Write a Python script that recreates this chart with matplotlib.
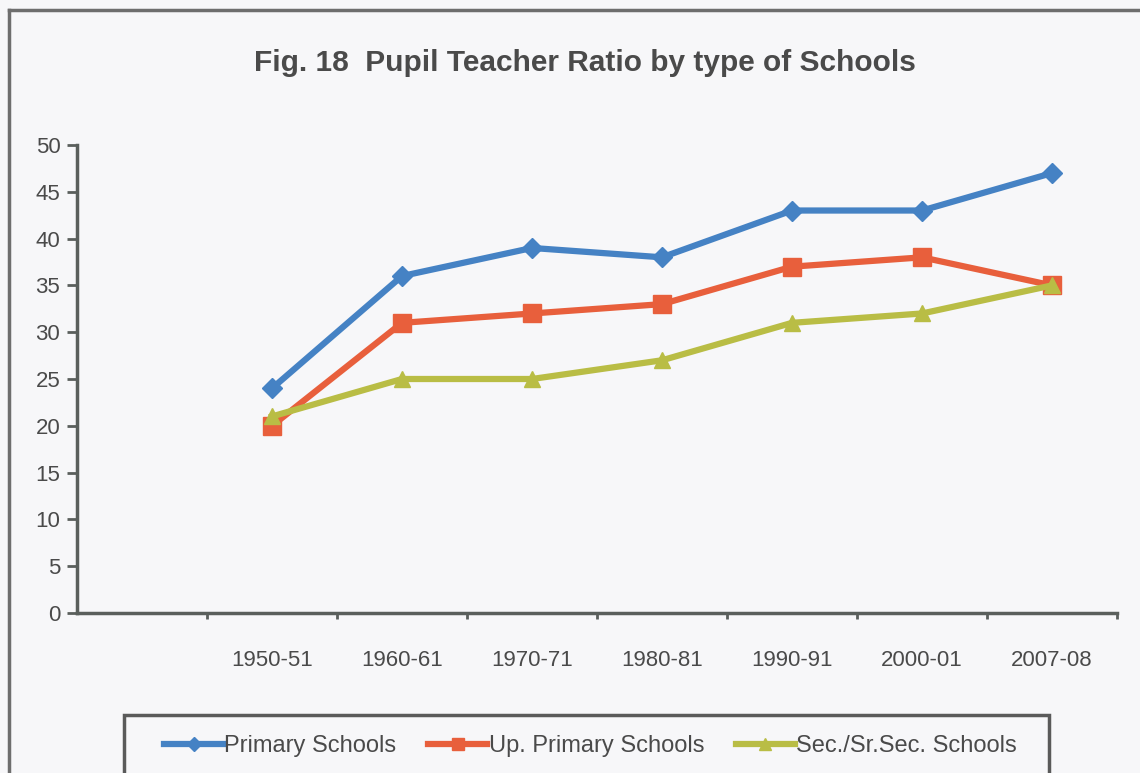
import numpy as np
import matplotlib.pyplot as plt
from matplotlib.lines import Line2D
from matplotlib.patches import Rectangle

years = ["1950-51", "1960-61", "1970-71", "1980-81", "1990-91", "2000-01", "2007-08"]
primary = [24, 36, 39, 38, 43, 43, 47]
up_primary = [20, 31, 32, 33, 37, 38, 35]
secondary = [21, 25, 25, 27, 31, 32, 35]

plt.rcParams['font.family'] = ['Liberation Sans', 'DejaVu Sans']

bg = '#f7f7f9'
axis_col = '#5a5f5c'
text_col = '#4a4a4a'
blue = '#4582c4'
red = '#e85f3c'
green = '#b9bd45'

fig = plt.figure(figsize=(11.4, 7.73), dpi=100, facecolor=bg)
ax = fig.add_axes([77 / 1140, 1 - 613 / 773, (1117 - 77) / 1140, (613 - 145) / 773])
ax.set_facecolor(bg)

# first slot stays empty, data sit in the middle of slots 2..8
x = np.arange(len(years)) + 1.5
ax.plot(x, primary, color=blue, lw=4.5, marker='D', ms=10, label='Primary Schools')
ax.plot(x, up_primary, color=red, lw=4.5, marker='s', ms=13, label='Up. Primary Schools')
ax.plot(x, secondary, color=green, lw=4.5, marker='^', ms=12, label='Sec./Sr.Sec. Schools')

ax.set_xlim(0, 8)
ax.set_ylim(0, 50)
ax.set_yticks(range(0, 51, 5))
ax.set_xticks(range(1, 9))
ax.set_xticklabels([])
ax.set_xticks(x, minor=True)
ax.set_xticklabels(years, minor=True)
ax.tick_params(axis='x', which='minor', length=0, pad=27, labelsize=16, labelcolor=text_col)
ax.tick_params(axis='x', which='major', length=4, width=2, color=axis_col, direction='out')
ax.tick_params(axis='y', length=7, width=2, color=axis_col, labelsize=16, labelcolor=text_col, pad=5)

for s in ['top', 'right']:
    ax.spines[s].set_visible(False)
for s in ['left', 'bottom']:
    ax.spines[s].set_color(axis_col)
    ax.spines[s].set_linewidth(2.5)

fig.text(0.513, 1 - 63 / 773, "Fig. 18  Pupil Teacher Ratio by type of Schools",
         ha='center', va='center', fontsize=21.5, fontweight='bold', color=text_col)

# outer frame of the scanned figure
fig.add_artist(Line2D([9 / 1140, 9 / 1140], [0, 1 - 10 / 773], transform=fig.transFigure,
                      color='#6e6e6e', lw=2.5))
fig.add_artist(Line2D([9 / 1140, 1], [1 - 10 / 773, 1 - 10 / 773], transform=fig.transFigure,
                      color='#6e6e6e', lw=2.5))

# legend box running off the bottom edge
fig.add_artist(Rectangle((124 / 1140, -0.02), (1049 - 124) / 1140, 0.02 + (773 - 715) / 773,
                         transform=fig.transFigure, fill=False, edgecolor='#5a5a5a', lw=2.5))
leg = fig.legend(loc='center', bbox_to_anchor=(0.518, 1 - 746 / 773), ncol=3, frameon=False,
                 fontsize=17, handlelength=2.5, columnspacing=1.35, handletextpad=0.05,
                 markerscale=0.7, labelcolor=text_col)

fig.savefig('out.png', dpi=100, facecolor=bg)
